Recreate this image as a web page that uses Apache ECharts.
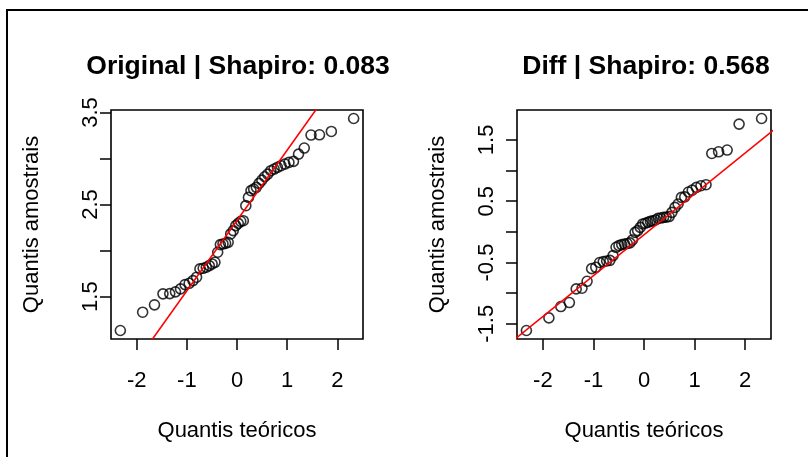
<!DOCTYPE html>
<html><head><meta charset="utf-8">
<script src="https://cdn.jsdelivr.net/npm/echarts@6/dist/echarts.min.js"></script>
<style>html,body{margin:0;padding:0;background:#fff}#c{width:808px;height:457px}</style>
</head><body><div id="c"></div>
<script>
// Theoretical normal quantiles (n = 50), read as the x positions of the points
const theoQ = [-2.326,-1.881,-1.645,-1.476,-1.341,-1.227,-1.126,-1.036,-0.954,-0.878,
  -0.806,-0.739,-0.674,-0.613,-0.553,-0.496,-0.440,-0.385,-0.332,-0.279,
  -0.228,-0.176,-0.126,-0.075,-0.025,0.025,0.075,0.126,0.176,0.228,
  0.279,0.332,0.385,0.440,0.496,0.553,0.613,0.674,0.739,0.806,
  0.878,0.954,1.036,1.126,1.227,1.341,1.476,1.645,1.881,2.326];
// Sample quantiles, panel 1 (Original)
const origY = [1.132,1.331,1.411,1.530,1.533,1.552,1.584,1.631,1.645,1.674,
  1.711,1.801,1.808,1.819,1.837,1.855,1.873,1.982,2.065,2.072,
  2.079,2.090,2.181,2.217,2.271,2.296,2.318,2.325,2.488,2.578,
  2.651,2.669,2.687,2.730,2.766,2.802,2.831,2.868,2.886,2.904,
  2.922,2.940,2.958,2.969,3.048,3.114,3.255,3.258,3.294,3.435];
// Sample quantiles, panel 2 (Diff)
const diffY = [-1.609,-1.403,-1.218,-1.153,-0.930,-0.920,-0.806,-0.600,-0.578,-0.500,
  -0.485,-0.475,-0.465,-0.388,-0.252,-0.225,-0.208,-0.200,-0.190,-0.180,
  -0.132,-0.008,0.020,0.073,0.129,0.140,0.155,0.171,0.180,0.194,
  0.220,0.225,0.236,0.240,0.250,0.318,0.399,0.454,0.562,0.570,
  0.650,0.680,0.725,0.752,0.769,1.279,1.306,1.334,1.757,1.849];
// Reference lines (intercept, slope)
const origLine = {a: 2.327, b: 0.764};
const diffLine = {a: -0.047, b: 0.6665};
const titles = ['Original | Shapiro: 0.083', 'Diff | Shapiro: 0.568'];
const xTicks = [-2,-1,0,1,2];
const origTicks = [1.5,2,2.5,3,3.5], origLabels = [1.5,2.5,3.5];
const diffTicks = [-1.5,-1,-0.5,0,0.5,1,1.5], diffLabels = [-1.5,-0.5,0.5,1.5];
const xLabel = 'Quantis teóricos', yLabel = 'Quantis amostrais';

const FONT = 'Liberation Sans, Arial, sans-serif';
function ext(arr){const mn=Math.min(...arr),mx=Math.max(...arr),r=mx-mn;return [mn-0.04*r,mx+0.04*r];}
const xr = ext(theoQ), r1 = ext(origY), r2 = ext(diffY);
function pts(ys){return theoQ.map((q,i)=>[q,ys[i]]);}
function lineData(l){return [[-3,l.a+l.b*-3],[3,l.a+l.b*3]];}
const grids = [{left:111,top:110,width:252,height:229},{left:517,top:110,width:254,height:229}];
function xAx(i){return {gridIndex:i,type:'value',min:xr[0],max:xr[1],splitLine:{show:false},
  axisLine:{show:false,onZero:false},
  axisTick:{show:true,customValues:xTicks,length:11,lineStyle:{color:'#000',width:1.5}},
  axisLabel:{customValues:xTicks,fontSize:22,color:'#000',fontFamily:FONT,margin:31,
    formatter:v=>String(v)},
  name:xLabel,nameLocation:'middle',nameGap:92,
  nameTextStyle:{fontSize:22,color:'#000',fontFamily:FONT,verticalAlign:'middle'}};}
function yAx(i,r,t,lb,m){return {gridIndex:i,type:'value',min:r[0],max:r[1],splitLine:{show:false},
  axisLine:{show:false,onZero:false},
  axisTick:{show:true,customValues:t,length:11,lineStyle:{color:'#000',width:1.5}},
  axisLabel:{customValues:lb,rotate:90,fontSize:22,color:'#000',fontFamily:FONT,margin:m,
    align:'center',verticalAlign:'middle',formatter:v=>String(v)},
  name:yLabel,nameLocation:'middle',nameGap:79,nameRotate:90,
  nameTextStyle:{fontSize:22,color:'#000',fontFamily:FONT,verticalAlign:'middle'}};}
const sc = {type:'scatter',symbol:'circle',symbolSize:10,
  itemStyle:{color:'rgba(0,0,0,0)',borderColor:'#000',borderWidth:1.6}};
const ln = {type:'line',showSymbol:false,clip:true,lineStyle:{color:'#ff0000',width:1.6}};
const chart = echarts.init(document.getElementById('c'));
chart.setOption({
  animation:false,
  backgroundColor:'#fff',
  title:[
    {text:titles[0],left:233,top:48,textAlign:'center',textStyle:{fontSize:26.5,fontWeight:'bold',color:'#000',fontFamily:FONT}},
    {text:titles[1],left:641,top:48,textAlign:'center',textStyle:{fontSize:26.5,fontWeight:'bold',color:'#000',fontFamily:FONT}}
  ],
  grid:grids.map(g=>Object.assign({show:true,borderColor:'#000',borderWidth:1.6,backgroundColor:'transparent'},g)),
  xAxis:[xAx(0),xAx(1)],
  yAxis:[yAx(0,r1,origTicks,origLabels,20),yAx(1,r2,diffTicks,diffLabels,30)],
  series:[
    Object.assign({},sc,{xAxisIndex:0,yAxisIndex:0,data:pts(origY)}),
    Object.assign({},ln,{xAxisIndex:0,yAxisIndex:0,data:lineData(origLine)}),
    Object.assign({},sc,{xAxisIndex:1,yAxisIndex:1,data:pts(diffY)}),
    Object.assign({},ln,{xAxisIndex:1,yAxisIndex:1,data:lineData(diffLine)})
  ],
  graphic:[{type:'rect',shape:{x:7,y:10,width:900,height:600},silent:true,
    style:{fill:'none',stroke:'#000',lineWidth:2}}]
});
</script></body></html>
